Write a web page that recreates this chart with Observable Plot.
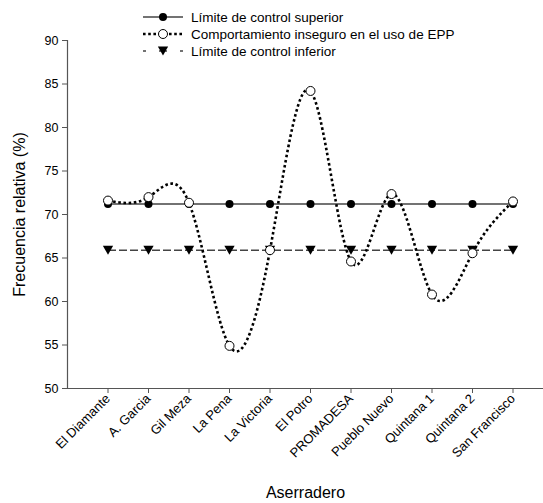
<!DOCTYPE html>
<html><head><meta charset="utf-8">
<script src="https://cdn.jsdelivr.net/npm/d3@7"></script>
<script src="https://cdn.jsdelivr.net/npm/@observablehq/plot@0.6"></script>
<style>
body{margin:0;background:#fff;font-family:"Liberation Sans",Arial,sans-serif;}
#wrap{position:relative;width:543px;height:503px;overflow:hidden;}
#legend{position:absolute;left:0;top:0;}
</style></head><body><div id="wrap"></div>
<script>
const categories = ["El Diamante","A. Garcia","Gil Meza","La Pena","La Victoria","El Potro","PROMADESA","Pueblo Nuevo","Quintana 1","Quintana 2","San Francisco"];
const values = [71.6, 72.0, 71.35, 54.9, 65.9, 84.2, 64.6, 72.35, 60.8, 65.55, 71.5];
const upperLimit = 71.2;
const lowerLimit = 65.9;
const yTicks = [50,55,60,65,70,75,80,85,90];
const seriesNames = ["Límite de control superior","Comportamiento inseguro en el uso de EPP","Límite de control inferior"];
const xTitle = "Aserradero";
const yTitle = "Frecuencia relativa (%)";

const positions = categories.map((c,i)=>i+1);
const series = categories.map((c,i)=>({x:i+1, v:values[i]}));
const ucl = categories.map((c,i)=>({x:i+1, v:upperLimit}));
const lcl = categories.map((c,i)=>({x:i+1, v:lowerLimit}));

const triangleDown = {
  draw(ctx, size){
    const s = Math.sqrt(size/ 0.6);
    const h = s*0.866;
    ctx.moveTo(-s/2, -h/2);
    ctx.lineTo(s/2, -h/2);
    ctx.lineTo(0, h/2);
    ctx.closePath();
  }
};

const axisColor = "#555";
const chart = Plot.plot({
  width:543, height:503,
  marginLeft:67, marginTop:40, marginBottom:115, marginRight:0,
  style:{fontFamily:"'Liberation Sans', Arial, sans-serif", fontSize:"12px", color:"#000", overflow:"hidden", background:"#fff"},
  x:{domain:[0,12], range:[67,553], axis:null},
  y:{domain:[50,90], axis:null},
  marks:[
    Plot.ruleX([0],{stroke:axisColor, strokeWidth:1.2}),
    Plot.ruleY([50],{stroke:axisColor, strokeWidth:1.2}),
    Plot.axisY({ticks:yTicks, tickSize:5, tickPadding:4, stroke:axisColor, fill:"#000", fontSize:12.5, label:null}),
    Plot.axisX({ticks:positions, tickFormat:i=>categories[i-1], tickRotate:-45, tickSize:5, tickPadding:3, stroke:axisColor, fill:"#000", fontSize:13, label:null}),
    Plot.text([yTitle],{frameAnchor:"left", textAnchor:"middle", lineAnchor:"middle", dx:-48, rotate:-90, fontSize:16, fill:"#000"}),
    Plot.text([xTitle],{frameAnchor:"bottom", lineAnchor:"middle", dy:104, fontSize:16, fill:"#000"}),
    Plot.line(ucl,{x:"x", y:"v", stroke:"#444", strokeWidth:1.5}),
    Plot.dot(ucl,{x:"x", y:"v", r:4, fill:"#000", stroke:"none"}),
    Plot.line(lcl,{x:"x", y:"v", stroke:"#444", strokeWidth:1.5, strokeDasharray:"8,3", strokeLinecap:"butt"}),
    Plot.dot(lcl,{x:"x", y:"v", r:4.5, symbol:triangleDown, fill:"#000", stroke:"none"}),
    Plot.line(series,{x:"x", y:"v", curve:"natural", stroke:"#000", strokeWidth:2.6, strokeDasharray:"2.6,2.6", strokeLinecap:"butt"}),
    Plot.dot(series,{x:"x", y:"v", r:4.5, fill:"#fff", stroke:"#000", strokeWidth:1})
  ]
});
const wrap = document.getElementById("wrap");
wrap.appendChild(chart);

// legend
const lg = d3.select(wrap).append("svg").attr("id","legend").attr("width",543).attr("height",60)
  .style("font-family","'Liberation Sans', Arial, sans-serif").style("font-size","13.5px");
const rowsY = [17,34,51];
const x0 = 143, x1 = 183, xm = 163, xt = 191;
// row 1
lg.append("line").attr("x1",x0).attr("x2",x1).attr("y1",rowsY[0]).attr("y2",rowsY[0]).attr("stroke","#444").attr("stroke-width",1.5);
lg.append("circle").attr("cx",xm).attr("cy",rowsY[0]).attr("r",4).attr("fill","#000");
// row 2
lg.append("line").attr("x1",x0).attr("x2",x1).attr("y1",rowsY[1]).attr("y2",rowsY[1]).attr("stroke","#000").attr("stroke-width",2.6).attr("stroke-dasharray","2.6,2.6");
lg.append("circle").attr("cx",xm).attr("cy",rowsY[1]).attr("r",4.5).attr("fill","#fff").attr("stroke","#000");
// row 3
lg.append("line").attr("x1",x0).attr("x2",x1).attr("y1",rowsY[2]).attr("y2",rowsY[2]).attr("stroke","#444").attr("stroke-width",1.5).attr("stroke-dasharray","3,13,8,13,3");
lg.append("path").attr("d", d3.symbol(triangleDown, Math.PI*4.5*4.5)()).attr("transform",`translate(${xm},${rowsY[2]})`).attr("fill","#000");
lg.selectAll("text.lt").data(seriesNames).join("text").attr("class","lt")
  .attr("x",xt).attr("y",(d,i)=>rowsY[i]).attr("dy","0.35em").text(d=>d);
</script></body></html>
